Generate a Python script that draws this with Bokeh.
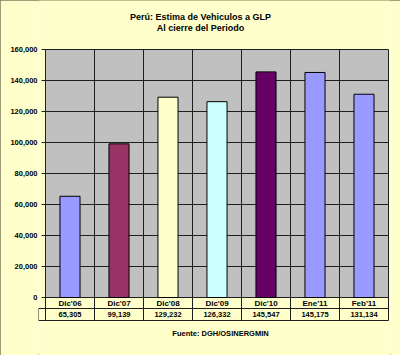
import numpy as np
from bokeh.plotting import figure
from bokeh.models import Range1d, FixedTicker, NumeralTickFormatter, Label, ColumnDataSource
from bokeh.core.properties import value
from bokeh.embed import file_html
from bokeh.resources import INLINE

categories = ["Dic'06", "Dic'07", "Dic'08", "Dic'09", "Dic'10", "Ene'11", "Feb'11"]
vehicles = [65305, 99139, 129232, 126332, 145547, 145175, 131134]
bar_colors = ["#9999FF", "#993366", "#FFFFCC", "#CCFFFF", "#660066", "#9999FF", "#9999FF"]
y_ticks = [0, 20000, 40000, 60000, 80000, 100000, 120000, 140000, 160000]

FONT = value("Liberation Sans")
BG = "#FFFFCC"
LINE = "#1e1e1e"

n = len(categories)
ymax = y_ticks[-1]
px = ymax / 248.0          # data units per pixel vertically
row1 = -11 * px            # bottom of category row
row2 = -23 * px            # bottom of value row

p = figure(width=400, height=355, output_backend="svg", toolbar_location=None,
           x_range=Range1d(-7 / 49, 7 + 2 / 49),
           y_range=Range1d(-58 * px, ymax + 49 * px),
           x_axis_location=None,
           min_border_left=38, min_border_right=10, min_border_top=0, min_border_bottom=0)
p.background_fill_color = BG
p.border_fill_color = BG
p.outline_line_color = None
p.xgrid.grid_line_color = None
p.ygrid.grid_line_color = None
p.styles = {"outline": "2px solid #7c7c5c", "outline-offset": "-2px"}

# plot area
p.quad(left=[0], right=[n], bottom=[0], top=[ymax], fill_color="#C0C0C0", line_color=None)

# horizontal gridlines (+ tick stubs)
p.segment(x0=[-0.08] * len(y_ticks), x1=[n] * len(y_ticks), y0=y_ticks, y1=y_ticks,
          line_color=LINE, line_width=1)

# vertical category boundaries through plot and table
xs = list(range(n + 1))
p.segment(x0=xs, x1=xs, y0=[ymax] * len(xs), y1=[row2] * len(xs), line_color=LINE, line_width=1)

# table lines
p.segment(x0=[-7 / 49, -7 / 49, -7 / 49], x1=[n, n, -7 / 49], y0=[row1, row2, row1], y1=[row1, row2, row2],
          line_color=LINE, line_width=1)

# bars
src = ColumnDataSource(dict(x=[i + 0.5 for i in range(n)], top=vehicles, color=bar_colors,
                            cat=categories, val=[f"{v:,}" for v in vehicles]))
p.vbar(x="x", top="top", bottom=0, width=0.41, fill_color="color", line_color="#000000",
       line_width=1, source=src)

# data table text
p.text(x="x", y=row1 / 2, text="cat", source=src, text_font=FONT, text_font_style="bold",
       text_font_size="8px", text_align="center", text_baseline="middle", text_color="#000000")
p.text(x="x", y=(row1 + row2) / 2, text="val", source=src, text_font=FONT, text_font_style="bold",
       text_font_size="7.5px", text_align="center", text_baseline="middle", text_color="#000000")

# y axis
ya = p.yaxis[0]
ya.ticker = FixedTicker(ticks=y_ticks)
ya.formatter = NumeralTickFormatter(format="0,0")
ya.axis_line_color = None
ya.major_tick_line_color = None
ya.minor_tick_line_color = None
ya.major_tick_out = 0
ya.major_tick_in = 0
ya.minor_tick_out = 0
ya.minor_tick_in = 0
ya.major_label_standoff = 1
ya.major_label_text_font = "Liberation Sans"
ya.major_label_text_font_style = "bold"
ya.major_label_text_font_size = "7.5px"
ya.major_label_text_color = "#000000"

# titles
for txt, yy in [("Perú: Estima de Vehiculos a GLP", ymax + 33 * px), ("Al cierre del Periodo", ymax + 22 * px)]:
    p.add_layout(Label(x=(200 - 45) / 49, y=yy, text=txt, text_font="Liberation Sans",
                       text_font_style="bold", text_font_size="9px", text_align="center",
                       text_baseline="middle", text_color="#000000"))
p.add_layout(Label(x=(220 - 45) / 49, y=-36 * px, text="Fuente: DGH/OSINERGMIN",
                   text_font="Liberation Sans", text_font_style="bold", text_font_size="7.5px",
                   text_align="center", text_baseline="middle", text_color="#000000"))

open("out.html", "w").write(file_html(p, INLINE))
